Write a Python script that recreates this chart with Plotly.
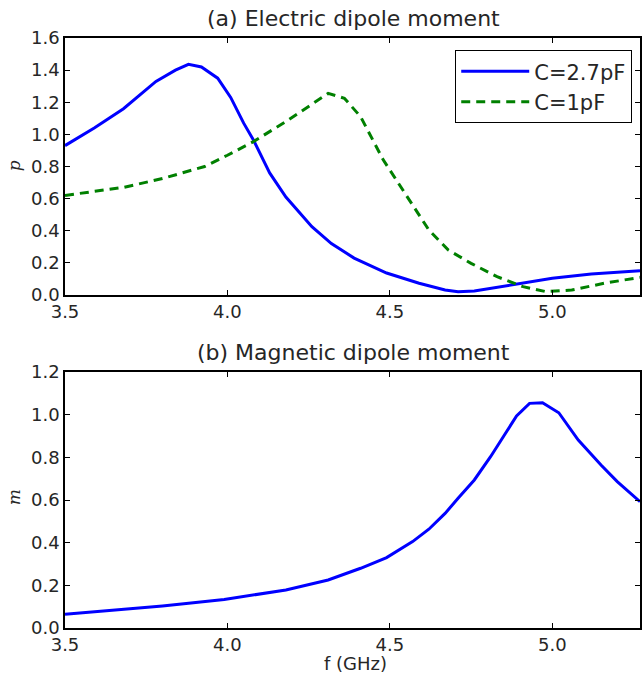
import plotly.graph_objects as go
from plotly.subplots import make_subplots

# (a) Electric dipole moment, C=2.7pF
f_p27 = [3.50, 3.59, 3.68, 3.78, 3.84, 3.88, 3.92, 3.97, 4.01, 4.05, 4.08, 4.13, 4.18,
         4.26, 4.32, 4.39, 4.49, 4.59, 4.67, 4.71, 4.76, 4.87, 5.00, 5.12, 5.27]
p27 = [0.93, 1.04, 1.16, 1.33, 1.40, 1.436, 1.42, 1.35, 1.23, 1.07, 0.965, 0.76, 0.61,
       0.425, 0.32, 0.23, 0.137, 0.073, 0.031, 0.02, 0.025, 0.062, 0.104, 0.131, 0.151]

# (a) Electric dipole moment, C=1pF
f_p1 = [3.50, 3.68, 3.80, 3.93, 4.00, 4.08, 4.18, 4.26, 4.31, 4.36, 4.41, 4.48, 4.56,
        4.62, 4.68, 4.75, 4.83, 4.91, 4.98, 5.06, 5.16, 5.27]
p1 = [0.62, 0.67, 0.725, 0.80, 0.87, 0.955, 1.08, 1.19, 1.255, 1.225, 1.11, 0.84, 0.59,
      0.405, 0.28, 0.197, 0.114, 0.052, 0.021, 0.031, 0.073, 0.11]

# (b) Magnetic dipole moment
f_m = [3.50, 3.80, 3.99, 4.18, 4.31, 4.41, 4.49, 4.57, 4.62, 4.67, 4.71, 4.76, 4.81,
       4.85, 4.89, 4.93, 4.97, 5.02, 5.08, 5.15, 5.20, 5.27]
m = [0.064, 0.103, 0.134, 0.178, 0.225, 0.28, 0.33, 0.405, 0.463, 0.537, 0.608, 0.694,
     0.803, 0.897, 0.994, 1.053, 1.056, 1.009, 0.881, 0.764, 0.686, 0.592]

x_ticks = [3.5, 4.0, 4.5, 5.0]
p_ticks = [0.0, 0.2, 0.4, 0.6, 0.8, 1.0, 1.2, 1.4, 1.6]
m_ticks = [0.0, 0.2, 0.4, 0.6, 0.8, 1.0, 1.2]

W, H = 642, 677
ML, MR, MT, MB = 65, 0, 38, 49
ph = H - MT - MB
pw = W - ML - MR

def py(px):
    return (H - MB - px) / ph

def px_(x):
    return (x - ML) / pw

fig = make_subplots(rows=2, cols=1)
fig.add_trace(go.Scatter(x=f_p27, y=p27, mode="lines", name="C=2.7pF",
                         line=dict(color="#0000ff", width=3)), row=1, col=1)
fig.add_trace(go.Scatter(x=f_p1, y=p1, mode="lines", name="C=1pF",
                         line=dict(color="#008000", width=3, dash="9px,6px")), row=1, col=1)
fig.add_trace(go.Scatter(x=f_m, y=m, mode="lines", showlegend=False,
                         line=dict(color="#0000ff", width=3)), row=2, col=1)

TXT = "#262626"
tickfont = dict(family="DejaVu Sans", size=18, color=TXT)
axis_common = dict(showline=True, linecolor="black", linewidth=1.5, mirror="ticks",
                   ticks="inside", ticklen=5, tickcolor="black", tickwidth=1,
                   showgrid=False, zeroline=False, tickfont=tickfont)

fig.update_xaxes(range=[3.5, 5.27], tickvals=x_ticks, ticktext=[f"{v:.1f}" for v in x_ticks],
                 **axis_common)
fig.update_yaxes(**axis_common)
fig.update_yaxes(range=[0, 1.6], tickvals=p_ticks, ticktext=[f"{v:.1f}" for v in p_ticks],
                 row=1, col=1)
fig.update_yaxes(range=[0, 1.2], tickvals=m_ticks, ticktext=[f"{v:.1f}" for v in m_ticks],
                 row=2, col=1)

fig.update_layout(
    width=W, height=H,
    margin=dict(l=ML, r=MR, t=MT, b=MB),
    plot_bgcolor="white", paper_bgcolor="white",
    xaxis=dict(domain=[0, 1]),
    yaxis=dict(domain=[py(295), 1.0]),
    xaxis2=dict(domain=[0, 1]),
    yaxis2=dict(domain=[0.0, py(372)]),
    legend=dict(x=px_(634), y=py(50), xanchor="right", yanchor="top",
                bordercolor="black", borderwidth=1.2, bgcolor="white",
                font=dict(family="DejaVu Sans", size=21, color=TXT),
                tracegroupgap=0, itemwidth=68),
    showlegend=True,
)

def ann(text, x, y, size, family="DejaVu Sans", angle=0):
    fig.add_annotation(text=text, x=px_(x), y=py(y), xref="paper", yref="paper",
                       xanchor="center", yanchor="middle", showarrow=False, textangle=angle,
                       font=dict(family=family, size=size, color=TXT))

ann("(a) Electric dipole moment", 355, 19, 22)
ann("(b) Magnetic dipole moment", 355, 352, 22)
ann("f (GHz)", 357, 663, 18)
ann("<i>p</i>", 14, 166, 17, family="DejaVu Serif", angle=-90)
ann("<i>m</i>", 14, 497, 17, family="DejaVu Serif", angle=-90)

fig.write_html("out.html", config={"displayModeBar": False},
               post_script="document.body.style.margin='0';document.body.style.overflow='hidden';")
